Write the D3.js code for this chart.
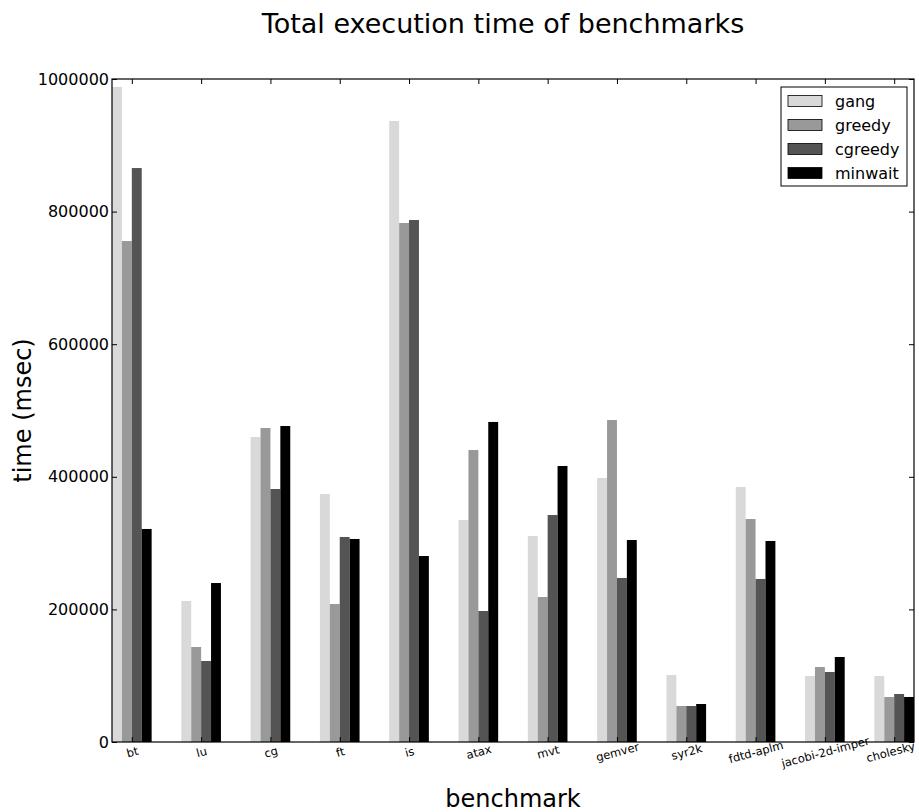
<!DOCTYPE html>
<html>
<head>
<meta charset="utf-8">
<script src="https://cdn.jsdelivr.net/npm/d3@7"></script>
<style>
  html, body { margin: 0; padding: 0; background: #fff; }
  svg { display: block; font-family: "DejaVu Sans", sans-serif; }
</style>
</head>
<body>
<svg id="chart" width="919" height="812"></svg>
<script>
const categories = ["bt", "lu", "cg", "ft", "is", "atax", "mvt", "gemver", "syr2k", "fdtd-aplm", "jacobi-2d-imper", "cholesky"];
const seriesNames = ["gang", "greedy", "cgreedy", "minwait"];
const gang    = [988000, 212700, 460000, 374000, 936700, 334800, 310700, 398200, 101000, 384600,  99500,  99500];
const greedy  = [755600, 143300, 473600, 208100, 782800, 440400, 218700, 485700,  54300, 336300, 113100,  67900];
const cgreedy = [865700, 122200, 381600, 309200, 787300, 197600, 342400, 247400,  54300, 245900, 105600,  72400];
const minwait = [321300, 239800, 476600, 306200, 280500, 482700, 416300, 304700,  57300, 303200, 128200,  67900];
const yTicks = [0, 200000, 400000, 600000, 800000, 1000000];
const colors = ["#d9d9d9", "#999999", "#545454", "#000000"];

(function () {
const series = [gang, greedy, cgreedy, minwait];

const svg = d3.select("#chart");
const pL = 112, pR = 914, pT = 79, pB = 742;
const w = 0.143;
const nGroups = categories.length;
const FONT = '"DejaVu Sans", sans-serif';

const x = d3.scaleLinear().domain([0, (nGroups - 1) + 4 * w]).range([pL, pR]);
const y = d3.scaleLinear().domain([0, 1000000]).range([pB, pT]);

// bars
series.forEach((vals, k) => {
  svg.append("g").selectAll("rect").data(vals).join("rect")
    .attr("x", (d, i) => x(i + k * w))
    .attr("width", x(w) - x(0))
    .attr("y", d => y(d))
    .attr("height", d => y(0) - y(d))
    .attr("fill", colors[k]);
});

// frame
svg.append("rect").attr("x", pL).attr("y", pT)
  .attr("width", pR - pL).attr("height", pB - pT)
  .attr("fill", "none").attr("stroke", "#000").attr("stroke-width", 1.2);

// y axis (inward ticks), left
const yAxis = d3.axisLeft(y).tickValues(yTicks).tickFormat(d3.format("d")).tickSizeInner(-5).tickSizeOuter(0).tickPadding(4);
const gy = svg.append("g").attr("transform", `translate(${pL},0)`).call(yAxis);
gy.attr("font-size", null).attr("font-family", null);
gy.select(".domain").remove();
gy.selectAll("text").style("font-size", "16px").style("font-family", FONT).attr("fill", "#000").attr("x", -3);
gy.selectAll("line").attr("stroke", "#000");
// right ticks
const yAxisR = d3.axisRight(y).tickValues(yTicks).tickFormat("").tickSizeInner(-5).tickSizeOuter(0);
const gyr = svg.append("g").attr("transform", `translate(${pR},0)`).call(yAxisR);
gyr.select(".domain").remove();
gyr.selectAll("line").attr("stroke", "#000");

// x axis ticks at group centers
const centers = categories.map((c, i) => i + 2 * w);
const xAxis = d3.axisBottom(x).tickValues(centers).tickFormat((d, i) => categories[i]).tickSizeInner(-5).tickSizeOuter(0).tickPadding(8);
const gx = svg.append("g").attr("transform", `translate(0,${pB})`).call(xAxis);
gx.attr("font-size", null).attr("font-family", null);
gx.select(".domain").remove();
gx.selectAll("line").attr("stroke", "#000");
gx.selectAll("text")
  .style("font-size", "11.5px").style("font-family", FONT).attr("fill", "#000")
  .attr("text-anchor", "middle")
  .attr("dy", "0.35em")
  .attr("x", (d, i) => i === categories.length - 1 ? -4 : 0)
  .attr("y", 10)
  .attr("transform", (d, i) => `rotate(-15, ${i === categories.length - 1 ? -4 : 0}, 10)`);
const xAxisT = d3.axisTop(x).tickValues(centers).tickFormat("").tickSizeInner(-5).tickSizeOuter(0);
const gxt = svg.append("g").attr("transform", `translate(0,${pT})`).call(xAxisT);
gxt.select(".domain").remove();
gxt.selectAll("line").attr("stroke", "#000");

// title & labels
svg.append("text").attr("x", 503).attr("y", 33).attr("text-anchor", "middle")
  .style("font-size", "27px").style("font-family", FONT).attr("fill", "#000").text("Total execution time of benchmarks");
svg.append("text").attr("x", 513).attr("y", 807).attr("text-anchor", "middle")
  .style("font-size", "24px").style("font-family", FONT).attr("fill", "#000").text("benchmark");
svg.append("text").attr("transform", `translate(31,${(pT + pB) / 2}) rotate(-90)`)
  .attr("text-anchor", "middle").style("font-size", "24px").style("font-family", FONT).attr("fill", "#000").text("time (msec)");

// legend
const lg = svg.append("g");
lg.append("rect").attr("x", 781).attr("y", 87).attr("width", 126).attr("height", 99)
  .attr("fill", "#fff").attr("stroke", "#000").attr("stroke-width", 1);
seriesNames.forEach((name, k) => {
  const cy = 101 + k * 24;
  lg.append("rect").attr("x", 788).attr("y", cy - 5.5).attr("width", 34).attr("height", 11)
    .attr("fill", colors[k]).attr("stroke", "#000").attr("stroke-width", 0.8);
  lg.append("text").attr("x", 835).attr("y", cy).attr("dy", "0.35em")
    .style("font-size", "16px").style("font-family", FONT).attr("fill", "#000").text(name);
});
})();
</script>
</body>
</html>
